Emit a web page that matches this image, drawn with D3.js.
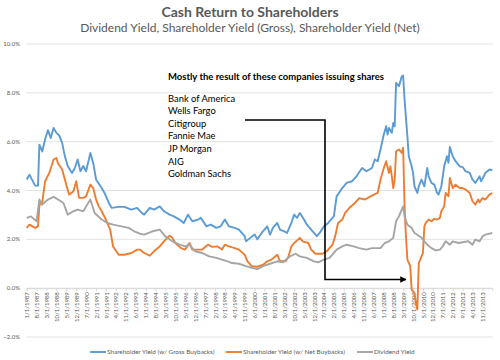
<!DOCTYPE html>
<html><head><meta charset="utf-8">
<script src="https://cdn.jsdelivr.net/npm/d3@7"></script>
<style>body{margin:0;background:#fff}svg{display:block}</style>
</head><body>
<svg id="c" width="500" height="360"></svg>
<script>
const title = "Cash Return to Shareholders";
const subtitle = "Dividend Yield, Shareholder Yield (Gross), Shareholder Yield (Net)";
const seriesNames = ["Shareholder Yield (w/ Gross Buybacks)", "Shareholder Yield (w/ Net Buybacks)", "Dividend Yield"];
const yTicks = [-2, 0, 2, 4, 6, 8, 10];
const xTickLabels = ["1/1/1987","8/1/1987","3/1/1988","10/1/1988","5/1/1989","12/1/1989","7/1/1990","2/1/1991","9/1/1991","4/1/1992","11/1/1992","6/1/1993","1/1/1994","8/1/1994","3/1/1995","10/1/1995","5/1/1996","12/1/1996","7/1/1997","2/1/1998","9/1/1998","4/1/1999","11/1/1999","6/1/2000","1/1/2001","8/1/2001","3/1/2002","10/1/2002","5/1/2003","12/1/2003","7/1/2004","2/1/2005","9/1/2005","4/1/2006","11/1/2006","6/1/2007","1/1/2008","8/1/2008","3/1/2009","10/1/2009","5/1/2010","12/1/2010","7/1/2011","2/1/2012","9/1/2012","4/1/2013","11/1/2013"];
const companies = ["Bank of America","Wells Fargo","Citigroup","Fannie Mae","JP Morgan","AIG","Goldman Sachs"];
const annotation = "Mostly the result of these companies issuing shares";

const gross = [["1987-01",4.45],["1987-03",4.65],["1987-07",4.2],["1987-09",4.2],["1987-10",5.88],["1987-12",5.6],["1988-02",6.1],["1988-04",6.47],["1988-06",6.15],["1988-08",6.56],["1988-10",6.36],["1988-12",6.25],["1989-02",5.95],["1989-04",5.4],["1989-06",5.0],["1989-09",4.72],["1989-11",4.92],["1990-01",5.27],["1990-03",4.79],["1990-05",5.0],["1990-07",4.79],["1990-10",5.54],["1990-12",5.13],["1991-02",4.45],["1991-06",4.1],["1991-08",3.9],["1991-11",3.5],["1992-01",3.29],["1992-06",3.33],["1992-10",3.33],["1993-03",3.22],["1993-07",3.29],["1993-10",3.1],["1993-12",3.01],["1994-04",3.29],["1994-07",3.22],["1994-11",3.35],["1995-02",3.15],["1995-06",3.01],["1995-09",2.94],["1996-01",2.81],["1996-04",2.67],["1996-07",3.01],["1996-10",2.74],["1997-02",2.81],["1997-04",2.88],["1997-08",2.53],["1997-11",2.6],["1998-03",2.47],["1998-06",2.53],["1998-09",2.81],["1998-12",2.53],["1999-04",2.47],["1999-07",2.4],["1999-11",2.13],["1999-12",1.92],["2000-03",2.06],["2000-06",2.2],["2000-08",2.0],["2000-11",2.26],["2001-03",2.53],["2001-05",2.19],["2001-07",2.47],["2001-10",2.67],["2001-12",2.4],["2002-03",2.33],["2002-05",2.26],["2002-08",2.67],["2002-10",3.01],["2002-12",2.88],["2003-02",3.08],["2003-05",2.81],["2003-07",2.6],["2003-10",2.4],["2004-02",2.13],["2004-04",2.26],["2004-07",2.53],["2004-10",2.67],["2005-02",2.94],["2005-04",3.76],["2005-08",4.1],["2005-11",4.31],["2006-03",4.38],["2006-06",4.58],["2006-10",4.92],["2007-01",4.79],["2007-05",4.92],["2007-07",5.27],["2007-09",5.2],["2007-11",5.68],["2008-01",6.22],["2008-03",6.63],["2008-04",6.29],["2008-05",6.56],["2008-07",6.36],["2008-08",6.77],["2008-09",6.63],["2008-10",8.41],["2008-12",8.27],["2009-02",8.68],["2009-03",8.71],["2009-04",7.72],["2009-06",6.22],["2009-07",5.4],["2009-09",4.99],["2009-10",4.72],["2009-11",4.17],["2010-01",3.9],["2010-02",4.17],["2010-04",4.45],["2010-06",4.17],["2010-08",4.92],["2010-09",4.58],["2010-11",4.31],["2011-01",4.24],["2011-03",3.9],["2011-04",3.83],["2011-06",4.17],["2011-08",4.99],["2011-10",5.4],["2011-11",5.13],["2011-12",5.78],["2012-02",5.4],["2012-04",5.2],["2012-07",4.99],["2012-09",4.96],["2012-11",4.79],["2013-02",4.72],["2013-04",4.45],["2013-06",4.31],["2013-09",4.58],["2013-10",4.38],["2013-12",4.58],["2014-01",4.72],["2014-04",4.86],["2014-06",4.83]];

const net = [["1987-01",2.47],["1987-03",2.6],["1987-07",2.47],["1987-09",2.53],["1987-10",3.4],["1987-12",3.5],["1988-02",4.38],["1988-05",4.72],["1988-08",5.27],["1988-10",5.33],["1988-11",5.13],["1989-02",4.86],["1989-04",4.45],["1989-07",3.83],["1989-10",3.97],["1989-12",4.38],["1990-02",3.7],["1990-05",3.7],["1990-07",3.76],["1990-10",4.24],["1990-12",4.1],["1991-02",3.63],["1991-04",3.35],["1991-06",3.15],["1991-09",2.8],["1991-12",2.4],["1992-02",1.71],["1992-06",1.37],["1992-10",1.37],["1993-03",1.44],["1993-07",1.58],["1993-09",1.58],["1993-12",1.44],["1994-04",1.33],["1994-07",1.51],["1994-11",1.71],["1995-02",1.92],["1995-06",2.15],["1995-08",2.06],["1995-10",1.85],["1996-02",1.64],["1996-05",1.58],["1996-08",1.85],["1996-10",1.58],["1997-02",1.58],["1997-05",1.58],["1997-09",1.78],["1997-12",1.69],["1998-04",1.71],["1998-07",1.58],["1998-09",1.78],["1998-12",1.71],["1999-04",1.64],["1999-07",1.58],["1999-11",1.37],["2000-01",1.1],["2000-04",0.9],["2000-08",0.88],["2000-12",0.96],["2001-03",1.1],["2001-06",1.17],["2001-10",1.37],["2001-12",1.1],["2002-04",1.1],["2002-06",1.3],["2002-08",1.71],["2002-10",1.85],["2003-02",2.06],["2003-04",1.92],["2003-08",1.85],["2003-10",1.58],["2004-01",1.41],["2004-06",1.41],["2004-09",1.51],["2005-01",1.78],["2005-03",2.12],["2005-05",2.67],["2005-08",2.81],["2005-10",3.08],["2006-01",3.29],["2006-05",3.49],["2006-08",3.69],["2006-12",3.63],["2007-04",3.76],["2007-07",3.85],["2007-09",3.9],["2007-11",4.45],["2008-01",4.86],["2008-03",5.2],["2008-05",4.72],["2008-06",4.99],["2008-07",4.58],["2008-08",4.1],["2008-09",4.45],["2008-10",5.61],["2008-12",5.68],["2009-02",5.54],["2009-03",5.75],["2009-04",3.35],["2009-05",2.12],["2009-06",1.17],["2009-08",0.9],["2009-09",-0.06],["2009-11",-0.2],["2009-12",-0.61],["2010-01",-0.88],["2010-02",1.03],["2010-04",1.3],["2010-05",1.44],["2010-06",2.53],["2010-07",2.67],["2010-09",2.81],["2010-11",2.74],["2011-01",2.84],["2011-03",2.81],["2011-05",2.88],["2011-06",3.15],["2011-08",3.35],["2011-09",3.9],["2011-11",3.76],["2011-12",4.51],["2012-02",4.1],["2012-04",4.24],["2012-07",4.1],["2012-09",4.1],["2012-11",4.04],["2013-02",3.9],["2013-04",3.56],["2013-06",3.42],["2013-08",3.63],["2013-09",3.52],["2013-11",3.69],["2014-01",3.63],["2014-04",3.83],["2014-06",3.9]];

const dividend = [["1987-01",2.88],["1987-04",2.94],["1987-08",2.74],["1987-10",3.63],["1987-12",3.42],["1988-04",3.63],["1988-08",3.74],["1988-12",3.6],["1989-03",3.49],["1989-06",3.01],["1989-10",3.15],["1990-01",3.22],["1990-05",3.15],["1990-10",3.63],["1991-01",3.08],["1991-06",2.81],["1991-10",2.67],["1992-02",2.6],["1992-08",2.53],["1993-01",2.47],["1993-05",2.33],["1993-09",2.23],["1993-12",2.19],["1994-06",2.33],["1994-11",2.4],["1995-03",2.12],["1995-08",1.92],["1996-01",1.78],["1996-05",1.71],["1996-08",1.78],["1996-12",1.51],["1997-05",1.44],["1997-10",1.3],["1998-03",1.24],["1998-07",1.17],["1998-11",1.1],["1999-02",1.03],["1999-07",1.0],["1999-12",0.9],["2000-04",0.83],["2000-08",0.78],["2000-12",0.9],["2001-05",1.0],["2001-10",1.1],["2002-02",1.06],["2002-07",1.3],["2002-11",1.41],["2003-02",1.3],["2003-07",1.24],["2003-12",1.1],["2004-03",1.06],["2004-07",1.17],["2004-11",1.24],["2005-04",1.58],["2005-08",1.71],["2005-11",1.78],["2006-04",1.71],["2006-08",1.64],["2007-01",1.58],["2007-05",1.64],["2007-11",1.64],["2008-02",1.85],["2008-05",1.92],["2008-08",2.06],["2008-10",2.74],["2008-12",2.94],["2009-03",3.35],["2009-04",2.94],["2009-06",2.6],["2009-09",2.47],["2009-11",2.26],["2010-01",2.19],["2010-04",2.06],["2010-06",1.92],["2010-08",1.78],["2010-11",1.64],["2011-02",1.55],["2011-05",1.58],["2011-07",1.71],["2011-09",1.92],["2011-12",1.78],["2012-02",1.92],["2012-06",1.85],["2012-09",1.88],["2013-01",1.92],["2013-04",1.78],["2013-06",1.99],["2013-09",1.92],["2013-11",2.12],["2014-01",2.19],["2014-06",2.26]];

const colors = ["#5B9BD5", "#ED7D31", "#A5A5A5"];
const font = "Lato, 'Open Sans', sans-serif";
const textGray = "#595959";

const svg = d3.select("#c");
const pm = d3.timeParse("%Y-%m");
const pt = d3.timeParse("%m/%d/%Y");

const x = d3.scaleTime().domain([new Date(1987,0,1), new Date(2014,5,1)]).range([26.7, 492.3]);
const y = d3.scaleLinear().domain([-2, 10]).range([337, 44]);

// title
svg.append("text").attr("x", 250).attr("y", 16.5).attr("text-anchor","middle")
  .attr("font-family", font).attr("font-weight","bold").attr("font-size", 14).attr("fill", textGray).text(title);
svg.append("text").attr("x", 250).attr("y", 32).attr("text-anchor","middle")
  .attr("font-family", font).attr("font-size", 12).attr("fill", textGray).text(subtitle);

// gridlines
svg.append("g").selectAll("line").data(yTicks).join("line")
  .attr("x1", 26).attr("x2", 493).attr("y1", d => y(d)).attr("y2", d => y(d))
  .attr("stroke", "#e3e3e3").attr("stroke-width", 1);

// y labels
svg.append("g").selectAll("text").data(yTicks).join("text")
  .attr("x", 20).attr("y", d => y(d)).attr("dy", "0.35em").attr("text-anchor","end")
  .attr("font-family", font).attr("font-size", 6).attr("fill", textGray)
  .text(d => d3.format(".1f")(d) + "%");

// x axis
const xAxis = d3.axisBottom(x).tickValues(xTickLabels.map(pt)).tickSize(3)
  .tickFormat((d,i) => xTickLabels[i]);
const gx = svg.append("g").attr("transform", `translate(0,${y(0)})`).call(xAxis);
gx.select(".domain").attr("stroke", "#d9d9d9");
gx.selectAll(".tick line").attr("stroke", "#d9d9d9");
gx.selectAll(".tick text")
  .attr("font-family", font).attr("font-size", 6).attr("fill", textGray)
  .attr("text-anchor", "end").attr("transform", "rotate(-90)")
  .attr("x", -4).attr("y", 0).attr("dy", "0.35em");

// lines
const line = d3.line().x(d => x(pm(d[0]))).y(d => y(d[1]));
[gross, net, dividend].forEach((s, i) => {
  svg.append("path").datum(s).attr("d", line).attr("fill","none")
    .attr("stroke", colors[i]).attr("stroke-width", 1.9).attr("stroke-linejoin","round");
});

// annotation text
svg.append("text").attr("x", 168).attr("y", 79.5).attr("font-family", font).attr("font-weight","bold")
  .attr("font-size", 9.5).attr("fill", "#000").text(annotation);
svg.append("g").selectAll("text").data(companies).join("text")
  .attr("x", 168).attr("y", (d,i) => 101.5 + i*12.65).attr("font-family", font)
  .attr("font-size", 9.4).attr("fill", "#000").text(d => d);

// connector with arrow
svg.append("defs").append("marker").attr("id","ah").attr("viewBox","0 0 10 10")
  .attr("refX", 9).attr("refY", 5).attr("markerWidth", 4).attr("markerHeight", 4)
  .attr("markerUnits","strokeWidth").attr("orient","auto")
  .append("path").attr("d","M0,0 L10,5 L0,10 Z").attr("fill","#000");
svg.append("path").attr("d", "M245,120 H325 V279.5 H406").attr("fill","none")
  .attr("stroke","#000").attr("stroke-width", 1.6).attr("marker-end","url(#ah)");

// legend
const legX = [90, 226, 357];
const lg = svg.append("g");
seriesNames.forEach((n, i) => {
  lg.append("line").attr("x1", legX[i]).attr("x2", legX[i]+16).attr("y1", 352).attr("y2", 352)
    .attr("stroke", colors[i]).attr("stroke-width", 1.9);
  lg.append("text").attr("x", legX[i]+17).attr("y", 352).attr("dy","0.35em")
    .attr("font-family", font).attr("font-size", 6.4).attr("fill", textGray).text(n);
});
</script>
</body></html>
